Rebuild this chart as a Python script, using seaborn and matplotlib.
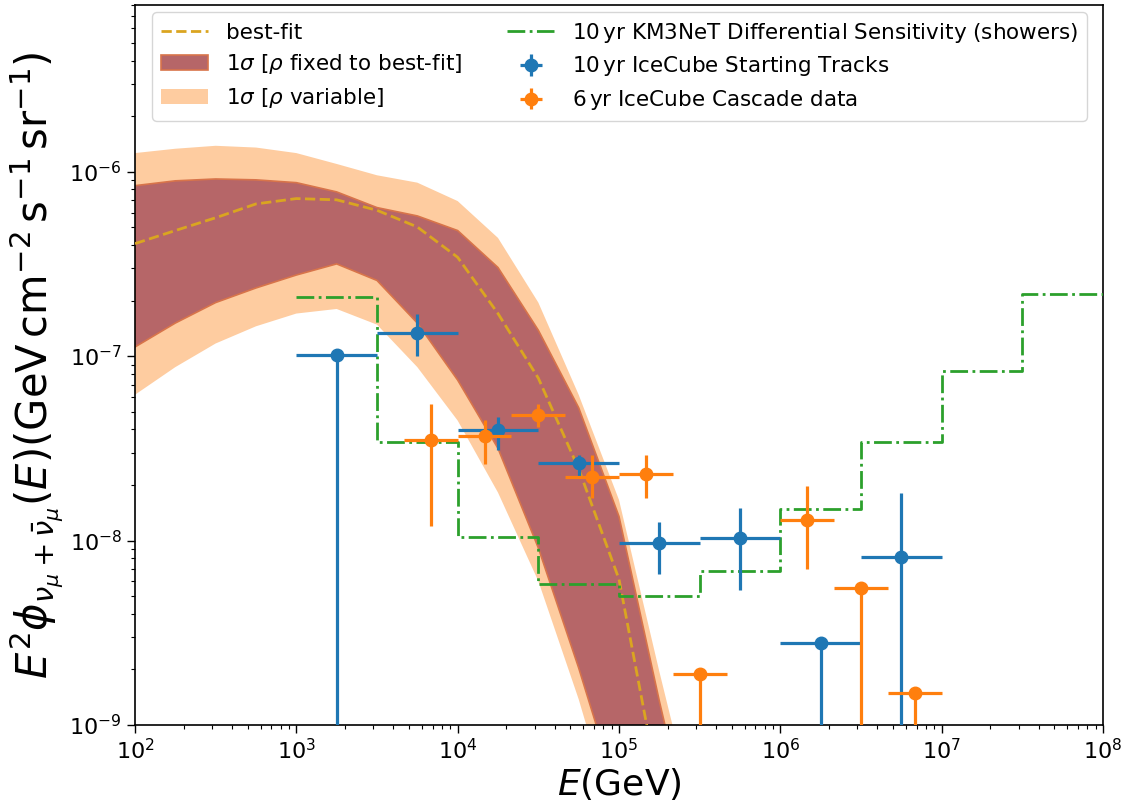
import numpy as np
import pandas as pd
import matplotlib
matplotlib.use("Agg")
import matplotlib.pyplot as plt
import seaborn as sns

# ---------------- data ----------------
# model grid (GeV)
model_E = [1.0e2, 1.778e2, 3.162e2, 5.623e2, 1.0e3, 1.778e3, 3.162e3, 5.623e3,
           1.0e4, 1.778e4, 3.162e4, 5.623e4, 1.0e5, 1.778e5, 3.162e5]
best_fit = [4.07e-7, 4.79e-7, 5.62e-7, 6.68e-7, 7.14e-7, 7.03e-7, 6.17e-7, 5.01e-7,
            3.43e-7, 1.70e-7, 7.59e-8, 2.45e-8, 6.17e-9, 4.37e-10, 3.16e-11]
fixed_hi = [8.39e-7, 8.91e-7, 9.12e-7, 9.02e-7, 8.71e-7, 7.76e-7, 6.38e-7, 5.75e-7,
            4.79e-7, 3.02e-7, 1.38e-7, 5.25e-8, 1.35e-8, 1.35e-9, 1.58e-10]
fixed_lo = [1.12e-7, 1.51e-7, 1.95e-7, 2.34e-7, 2.75e-7, 3.16e-7, 2.57e-7, 1.51e-7,
            7.41e-8, 3.16e-8, 9.12e-9, 2.04e-9, 3.98e-10, 7.94e-11, 1.58e-11]
var_hi = [1.26e-6, 1.33e-6, 1.38e-6, 1.35e-6, 1.26e-6, 1.10e-6, 9.55e-7, 8.71e-7,
          6.92e-7, 4.37e-7, 1.95e-7, 6.17e-8, 1.66e-8, 1.95e-9, 2.51e-10]
var_lo = [6.17e-8, 8.71e-8, 1.17e-7, 1.45e-7, 1.70e-7, 1.80e-7, 1.48e-7, 8.71e-8,
          4.47e-8, 1.82e-8, 6.03e-9, 1.38e-9, 2.51e-10, 3.98e-11, 6.31e-12]

# KM3NeT differential sensitivity (bin edges and values)
km3_edges = [1e3, 3.162e3, 1e4, 3.162e4, 1e5, 3.162e5, 1e6, 3.162e6, 1e7, 3.162e7, 1e8]
km3_vals = [2.1e-7, 3.4e-8, 1.05e-8, 5.8e-9, 5.0e-9, 6.8e-9, 1.48e-8, 3.4e-8, 8.35e-8, 2.18e-7]

# IceCube starting tracks (10 yr)
st_E = [1.78e3, 5.62e3, 1.78e4, 5.62e4, 1.78e5, 5.62e5, 1.78e6, 5.62e6]
st_E_lo = [1e3, 3.162e3, 1e4, 3.162e4, 1e5, 3.162e5, 1e6, 3.162e6]
st_E_hi = [3.162e3, 1e4, 3.162e4, 1e5, 3.162e5, 1e6, 3.162e6, 1e7]
st_F = [1.01e-7, 1.34e-7, 3.96e-8, 2.62e-8, 9.7e-9, 1.03e-8, 2.78e-9, 8.1e-9]
st_F_lo = [1e-13, 1.0e-7, 3.1e-8, 2.2e-8, 6.6e-9, 5.4e-9, 1e-13, 1e-13]
st_F_hi = [1.01e-7, 1.7e-7, 4.7e-8, 2.9e-8, 1.26e-8, 1.5e-8, 2.78e-9, 1.82e-8]

# IceCube cascades (6 yr)
cs_E = [6.8e3, 1.47e4, 3.16e4, 6.8e4, 1.47e5, 3.16e5, 1.47e6, 3.16e6, 6.8e6]
cs_E_lo = [4.64e3, 1e4, 2.15e4, 4.64e4, 1e5, 2.15e5, 1e6, 2.15e6, 4.64e6]
cs_E_hi = [1e4, 2.15e4, 4.64e4, 1e5, 2.15e5, 4.64e5, 2.15e6, 4.64e6, 1e7]
cs_F = [3.5e-8, 3.7e-8, 4.8e-8, 2.2e-8, 2.3e-8, 1.9e-9, 1.3e-8, 5.5e-9, 1.5e-9]
cs_F_lo = [1.2e-8, 2.6e-8, 4.1e-8, 1.7e-8, 1.7e-8, 1e-13, 7.0e-9, 1e-13, 1e-13]
cs_F_hi = [5.5e-8, 4.5e-8, 5.5e-8, 2.9e-8, 2.9e-8, 1.9e-9, 1.97e-8, 5.5e-9, 1.5e-9]

# ---------------- plot ----------------
sns.set_style("ticks", {"axes.edgecolor": "black", "xtick.color": "black",
                        "ytick.color": "black", "xtick.direction": "out",
                        "ytick.direction": "out", "text.color": "black",
                        "axes.labelcolor": "black"})
plt.rcParams["font.family"] = ["DejaVu Sans"]
plt.rcParams["mathtext.fontset"] = "dejavusans"

fig = plt.figure(figsize=(11.28, 8.10), dpi=100)
ax = fig.add_axes([135 / 1128, 1 - 725 / 810, (1103 - 135) / 1128, (725 - 5) / 810])
ax.set_xscale("log")
ax.set_yscale("log")

E = np.array(model_E)
ax.fill_between(E, var_lo, var_hi, color="#fecca0", lw=0, zorder=1,
                label=r"1$\sigma$ [$\rho$ variable]")
ax.fill_between(E, fixed_lo, fixed_hi, facecolor="#b66668", edgecolor="#d8744a",
                lw=1.2, zorder=2, label=r"1$\sigma$ [$\rho$ fixed to best-fit]")

bf_df = pd.DataFrame({"E": model_E, "flux": best_fit})
sns.lineplot(data=bf_df, x="E", y="flux", ax=ax, color="#daa520", lw=2,
             linestyle="--", estimator=None, sort=False, zorder=3, label="best-fit")

km_df = pd.DataFrame({"E": km3_edges, "flux": km3_vals + [km3_vals[-1]]})
sns.lineplot(data=km_df, x="E", y="flux", ax=ax, color="#2ca02c", lw=2,
             linestyle="-.", drawstyle="steps-post", estimator=None, sort=False,
             zorder=4, label="10$\\,$yr KM3NeT Differential Sensitivity (showers)")

def errs(c, lo, hi):
    c = np.array(c); lo = np.array(lo); hi = np.array(hi)
    return np.vstack([c - lo, hi - c])

ax.errorbar(st_E, st_F, xerr=errs(st_E, st_E_lo, st_E_hi),
            yerr=errs(st_F, st_F_lo, st_F_hi), fmt="o", color="#1f77b4",
            ms=9, elinewidth=2.3, capsize=0, zorder=5,
            label="10$\\,$yr IceCube Starting Tracks")
ax.errorbar(cs_E, cs_F, xerr=errs(cs_E, cs_E_lo, cs_E_hi),
            yerr=errs(cs_F, cs_F_lo, cs_F_hi), fmt="o", color="#ff7f0e",
            ms=9, elinewidth=2.3, capsize=0, zorder=6,
            label="6$\\,$yr IceCube Cascade data")

ax.set_xlim(1e2, 1e8)
ax.set_ylim(1e-9, 8e-6)
ax.tick_params(axis="both", which="major", labelsize=16, length=6, width=1)
ax.tick_params(axis="both", which="minor", length=3, width=0.8)
for s in ax.spines.values():
    s.set_linewidth(1.2)

ax.set_xlabel(r"$E(\mathrm{GeV})$", fontsize=26, labelpad=2)
ax.set_ylabel(r"$E^2\phi_{\nu_\mu+\bar{\nu}_\mu}(E)(\mathrm{GeV\,cm^{-2}\,s^{-1}\,sr^{-1}})$",
              fontsize=30, labelpad=3)

handles, labels = ax.get_legend_handles_labels()
order = ["best-fit", r"1$\sigma$ [$\rho$ fixed to best-fit]", r"1$\sigma$ [$\rho$ variable]",
         "10$\\,$yr KM3NeT Differential Sensitivity (showers)",
         "10$\\,$yr IceCube Starting Tracks", "6$\\,$yr IceCube Cascade data"]
hmap = dict(zip(labels, handles))
ax.legend([hmap[k] for k in order], order, ncol=2, loc="upper left",
          bbox_to_anchor=(0.018, 0.99), borderaxespad=0, fontsize=15.5,
          labelspacing=0.45, frameon=True, fancybox=True, edgecolor="0.8",
          framealpha=0.8, handlelength=2.2, handletextpad=0.8, columnspacing=2.1)

fig.savefig("out.png", dpi=100)
